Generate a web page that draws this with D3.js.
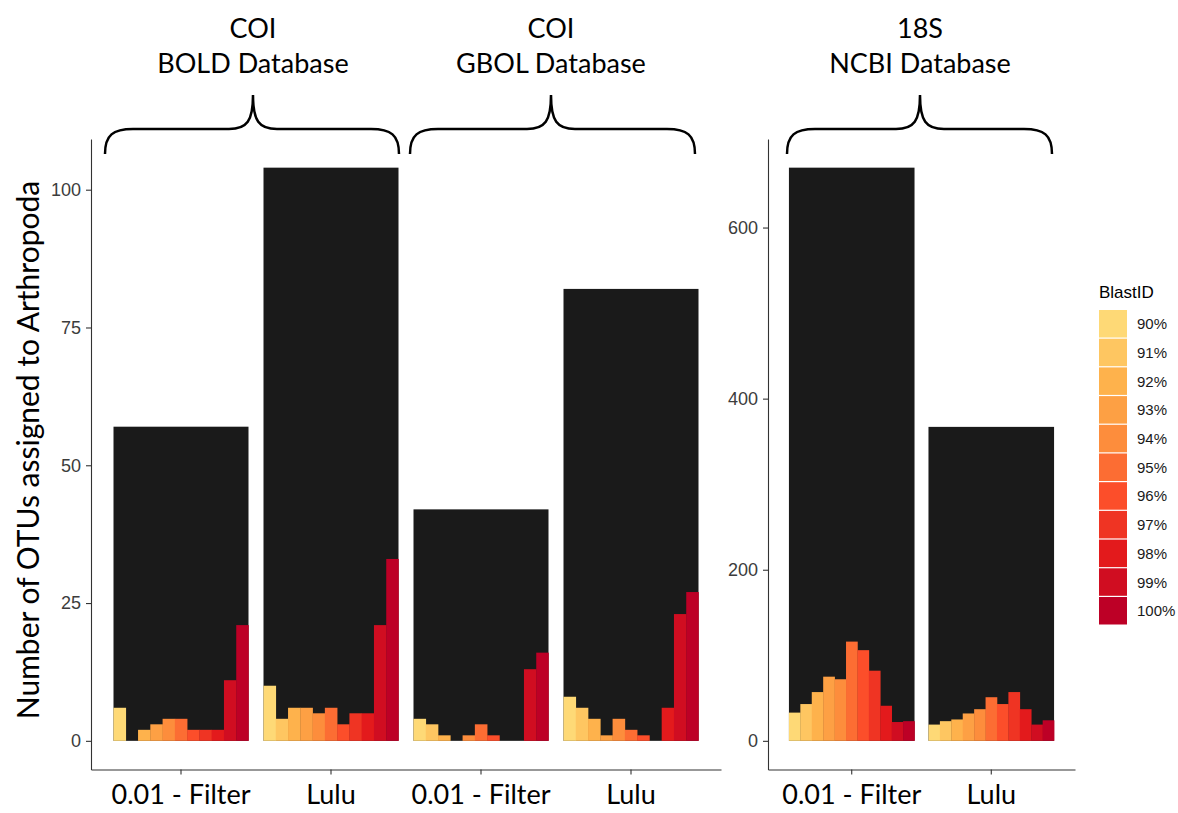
<!DOCTYPE html>
<html>
<head>
<meta charset="utf-8">
<script src="https://cdn.jsdelivr.net/npm/d3@7"></script>
<style>
    body { margin: 0; background: #fff; }
    svg text { font-family: "Liberation Sans", Arial, sans-serif; }
</style>
</head>
<body>
<div id="chart"></div>
<script>
// BlastID classes and their fill colours
const blastIds = ["90%", "91%", "92%", "93%", "94%", "95%", "96%", "97%", "98%", "99%", "100%"];
const blastColors = ["#FED976", "#FEC661", "#FEB24C", "#FDA044", "#FD8D3C", "#FC6D33",
    "#FC4E2A", "#EF3423", "#E31A1C", "#D00D21", "#BD0026"];

// COI panel (BOLD and GBOL databases)
const coiGroups = ["BOLD filter", "BOLD lulu", "GBOL filter", "GBOL lulu"];
const coiLabels = ["0.01 - Filter", "Lulu", "0.01 - Filter", "Lulu"];
const boldFilter = [6, 0, 2, 3, 4, 4, 2, 2, 2, 11, 21];
const boldLulu = [10, 4, 6, 6, 5, 6, 3, 5, 5, 21, 33];
const gbolFilter = [4, 3, 1, 0, 1, 3, 1, 0, 0, 13, 16];
const gbolLulu = [8, 6, 4, 1, 4, 2, 1, 0, 6, 23, 27];
const coiTicks = [0, 25, 50, 75, 100];

// 18S panel (NCBI database)
const ncbiGroups = ["NCBI filter", "NCBI lulu"];
const ncbiLabels = ["0.01 - Filter", "Lulu"];
const ncbiFilter = [33, 43, 57, 75, 72, 116, 106, 82, 41, 22, 23];
const ncbiLulu = [19, 23, 25, 32, 37, 51, 43, 57, 37, 19, 24];
const ncbiTicks = [0, 200, 400, 600];

const width = 1178;
const height = 813;
const panelTop = 139;
const panelBottom = 769.5;

const svg = d3.select("#chart").append("svg")
    .attr("width", width)
    .attr("height", height);

function drawPanel(groups, labels, series, xRange, yMax, ticks) {
    const totals = series.map(s => d3.sum(s));

    // ggplot-like discrete expansion: 0.6 of a step at each side
    const x = d3.scaleBand()
        .domain(groups)
        .range(xRange)
        .paddingInner(0.1)
        .paddingOuter(0.15);

    const pad = yMax * 0.05;
    const y = d3.scaleLinear()
        .domain([-pad, yMax + pad])
        .range([panelBottom, panelTop]);

    const inner = d3.scaleBand()
        .domain(blastIds)
        .range([0, x.bandwidth()]);

    const color = d3.scaleOrdinal()
        .domain(blastIds)
        .range(blastColors);

    const g = svg.append("g");

    // total bar in black
    g.selectAll(".total")
        .data(groups)
        .enter()
        .append("rect")
        .attr("class", "total")
        .attr("x", d => x(d))
        .attr("width", x.bandwidth())
        .attr("y", (d, i) => y(totals[i]))
        .attr("height", (d, i) => y(0) - y(totals[i]))
        .attr("fill", "#1A1A1A");

    // dodged BlastID bars
    groups.forEach((grp, gi) => {
        g.append("g")
            .attr("transform", `translate(${x(grp)},0)`)
            .selectAll("rect")
            .data(series[gi])
            .enter()
            .append("rect")
            .attr("x", (d, i) => inner(blastIds[i]))
            .attr("width", inner.bandwidth() + 0.3)
            .attr("y", d => y(d))
            .attr("height", d => y(0) - y(d))
            .attr("fill", (d, i) => color(blastIds[i]));
    });

    // y axis
    const yAxis = g.append("g")
        .attr("transform", `translate(${xRange[0]},0)`)
        .call(d3.axisLeft(y).tickValues(ticks).tickSize(5).tickSizeOuter(0).tickPadding(5));
    yAxis.selectAll("text")
        .style("font-family", "'Liberation Sans', Arial, sans-serif")
        .style("font-size", "18px")
        .attr("fill", "#3C3C3C");

    // x axis
    const xAxis = g.append("g")
        .attr("transform", `translate(0,${panelBottom})`)
        .call(d3.axisBottom(x).tickSize(5).tickSizeOuter(0).tickPadding(10)
            .tickFormat((d, i) => labels[i]));
    xAxis.selectAll("text")
        .style("font-family", "Lato, 'Open Sans', sans-serif")
        .style("font-size", "27px")
        .attr("fill", "#000")
        .attr("dy", "0.72em");

    g.selectAll(".domain").attr("stroke", "#333").attr("stroke-width", 1.1);
    g.selectAll(".tick line").attr("stroke", "#333").attr("stroke-width", 1.1);
}

drawPanel(coiGroups, coiLabels, [boldFilter, boldLulu, gbolFilter, gbolLulu], [91, 721], 104, coiTicks);
drawPanel(ncbiGroups, ncbiLabels, [ncbiFilter, ncbiLulu], [768, 1075], 670, ncbiTicks);

// y axis title
svg.append("text")
    .attr("transform", "translate(39,450) rotate(-90)")
    .attr("text-anchor", "middle")
    .style("font-family", "Lato, 'Open Sans', sans-serif")
    .style("font-size", "30px")
    .text("Number of OTUs assigned to Arthropoda");

// curly braces and database titles on top
const braces = [
    { x0: 105, x1: 399, tip: 253, title: ["COI", "BOLD Database"] },
    { x0: 410, x1: 695, tip: 551, title: ["COI", "GBOL Database"] },
    { x0: 787, x1: 1052, tip: 920, title: ["18S", "NCBI Database"] }
];

function bracePath(b) {
    const yEnd = 154, yMid = 129, yTip = 95, r = 28, r2 = 24;
    return `M${b.x0},${yEnd} C${b.x0},${yMid + 6} ${b.x0 + 8},${yMid} ${b.x0 + r},${yMid}`
        + ` L${b.tip - r2},${yMid}`
        + ` C${b.tip - 6},${yMid} ${b.tip},${yMid - 8} ${b.tip},${yTip}`
        + ` C${b.tip},${yMid - 8} ${b.tip + 6},${yMid} ${b.tip + r2},${yMid}`
        + ` L${b.x1 - r},${yMid}`
        + ` C${b.x1 - 8},${yMid} ${b.x1},${yMid + 6} ${b.x1},${yEnd}`;
}

svg.selectAll(".brace")
    .data(braces)
    .enter()
    .append("path")
    .attr("class", "brace")
    .attr("d", bracePath)
    .attr("fill", "none")
    .attr("stroke", "#000")
    .attr("stroke-width", 2.5);

braces.forEach(b => {
    const t = svg.append("text")
        .attr("text-anchor", "middle")
        .style("font-family", "Lato, 'Open Sans', sans-serif")
        .style("font-size", "27px");
    t.append("tspan").attr("x", b.tip).attr("y", 38).text(b.title[0]);
    t.append("tspan").attr("x", b.tip).attr("y", 73).text(b.title[1]);
});

// legend
const legend = svg.append("g")
    .attr("transform", "translate(1099,298)");

legend.append("text")
    .attr("x", 0)
    .attr("y", 0)
    .style("font-size", "17px")
    .attr("fill", "#000")
    .text("BlastID");

legend.selectAll(".key")
    .data(blastIds)
    .enter()
    .append("rect")
    .attr("class", "key")
    .attr("x", 0)
    .attr("y", (d, i) => 12 + i * 28.7)
    .attr("width", 28)
    .attr("height", 27.5)
    .attr("fill", (d, i) => blastColors[i]);

legend.selectAll(".key-label")
    .data(blastIds)
    .enter()
    .append("text")
    .attr("class", "key-label")
    .attr("x", 38)
    .attr("y", (d, i) => 12 + i * 28.7 + 14)
    .attr("dy", "0.35em")
    .style("font-size", "15px")
    .attr("fill", "#1A1A1A")
    .text(d => d);
</script>
</body>
</html>
